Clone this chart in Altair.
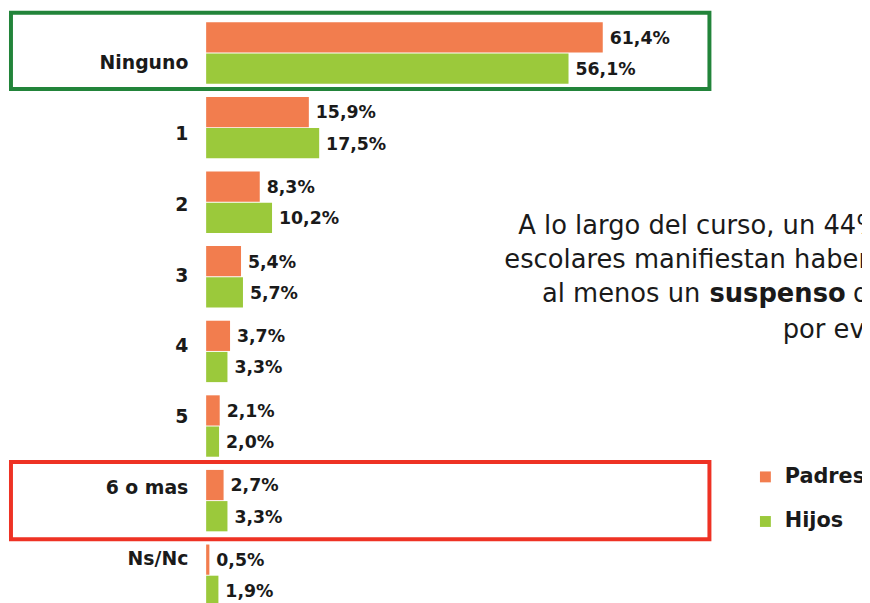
import altair as alt
import pandas as pd

# ---- data ----
categories = ["Ninguno", "1", "2", "3", "4", "5", "6 o mas", "Ns/Nc"]
series = ["Padres", "Hijos"]
padres = [61.4, 15.9, 8.3, 5.4, 3.7, 2.1, 2.7, 0.5]
hijos = [56.1, 17.5, 10.2, 5.7, 3.3, 2.0, 3.3, 1.9]
colors = ["#F27D4E", "#9BC93B"]

ann_line1 = "A lo largo del curso, un 44% de los"
ann_line2 = "escolares manifiestan haber tenido"
ann_line3a = "al menos un"
ann_line3b = "suspenso"
ann_line3c = "de media"
ann_line4 = "por evaluación"

rows = []
for c, p, h in zip(categories, padres, hijos):
    for s, v in (("Padres", p), ("Hijos", h)):
        rows.append({"cat": c, "serie": s, "valor": v,
                     "label": f"{v:.1f}".replace(".", ",") + "%"})
df = pd.DataFrame(rows)
cat_df = pd.DataFrame({"cat": categories})
one = pd.DataFrame({"k": [0]})

W, H = 652, 590
STEP_RANGE = 602.4
BOLD = "DejaVu Sans"
TXT = "#1a1a1a"

yband = alt.Y("cat:N", sort=categories, axis=None,
              scale=alt.Scale(domain=categories, range=[0, STEP_RANGE],
                              paddingInner=0.177, paddingOuter=0.0885))
yoff = alt.YOffset("serie:N", sort=series,
                   scale=alt.Scale(domain=series, paddingInner=0.03, paddingOuter=0))
xq = alt.X("valor:Q", axis=None, scale=alt.Scale(domain=[0, 100], range=[0, W]))

bars = alt.Chart(df).mark_bar().encode(
    y=yband, yOffset=yoff, x=xq,
    color=alt.Color("serie:N", sort=series,
                    scale=alt.Scale(domain=series, range=colors),
                    legend=alt.Legend(title=None, orient="none", legendX=554, legendY=455,
                                      symbolType="square", symbolSize=121,
                                      symbolStrokeWidth=0, labelFont=BOLD,
                                      labelFontWeight="bold", labelFontSize=21,
                                      labelColor=TXT, rowPadding=23, labelOffset=9,
                                      padding=0)),
)

values = alt.Chart(df).mark_text(
    align="left", baseline="alphabetic", dx=7, dy=6.4,
    font=BOLD, fontWeight="bold", fontSize=17.5, color=TXT,
).encode(y=yband, yOffset=yoff, x=xq, text="label:N")

main = alt.layer(bars, values)

cat_labels = alt.Chart(cat_df).mark_text(
    align="right", baseline="alphabetic", font=BOLD, fontWeight="bold",
    fontSize=19, color=TXT,
).encode(
    y=alt.Y("cat:N", sort=categories, axis=None,
            scale=alt.Scale(type="point", domain=categories, range=[54, 554], padding=0)),
    x=alt.value(-18),
    text="cat:N",
)

green_box = alt.Chart(one).mark_rect(filled=False, stroke="#22843A", strokeWidth=4).encode(
    x=alt.value(-197), x2=alt.value(508), y=alt.value(-3), y2=alt.value(74))
red_box = alt.Chart(one).mark_rect(filled=False, stroke="#EE3224", strokeWidth=4).encode(
    x=alt.value(-197), x2=alt.value(508), y=alt.value(450.5), y2=alt.value(528.5))


def ann(text, x, y, bold=False):
    return alt.Chart(one).mark_text(
        text=text, align="left", baseline="alphabetic", font=BOLD,
        fontWeight="bold" if bold else "normal", fontSize=26, color=TXT,
    ).encode(x=alt.value(x), y=alt.value(y))


annots = [
    ann(ann_line1, 523 - 208, 233 - 13),
    ann(ann_line2, 509 - 208, 268 - 13),
    ann(ann_line3a, 547 - 208, 302 - 13),
    ann(ann_line3b, 716 - 208, 302 - 13, bold=True),
    ann(ann_line3c, 861 - 208, 302 - 13),
    ann(ann_line4, 790 - 208, 338 - 13),
]

chart = alt.layer(main, cat_labels, green_box, red_box, *annots).resolve_scale(
    y="independent"
).properties(
    width=W, height=H,
    autosize=alt.AutoSizeParams(type="none"),
    padding={"left": 200, "top": 5, "right": 10, "bottom": 0},
    background="white",
).configure_view(strokeWidth=0)

chart.save("out.html", embed_options={"renderer": "svg", "actions": False})
